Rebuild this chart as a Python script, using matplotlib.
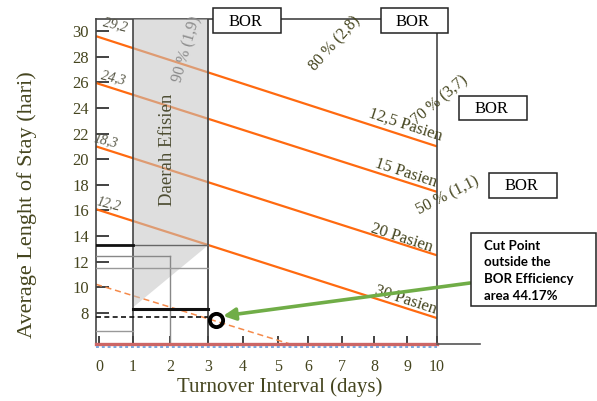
import numpy as np
import matplotlib
matplotlib.use("Agg")
import matplotlib.pyplot as plt
from matplotlib.patches import Rectangle, Polygon
import matplotlib.transforms as mtransforms

# ---------------- data ----------------
ti_ticks = [0, 1, 2, 3, 4, 5, 6, 7, 8, 9, 10]
los_ticks = [8, 10, 12, 14, 16, 18, 20, 22, 24, 26, 28, 30]

# patient-count (throughput) lines: LOS at x start and x = 10
pasien_names = ["12,5 Pasien", "15 Pasien", "20 Pasien", "30 Pasien"]
pasien_los_start = [29.6, 25.95, 21.0, 16.1]
pasien_los_end = [21.0, 17.45, 12.5, 7.6]
start_labels = ["29,2", "24,3", "18,3", "12,2"]

# dashed line of the cut point
cut_line_x = [-0.09, 5.4]
cut_line_y = [10.24, 5.58]
cut_point_x = [3.23]
cut_point_y = [7.46]
cut_los = 7.69

# efficient region
eff_ti = [1, 3]
eff_los_low = 13.28
eff_triangle_low = 8.44

bor_labels = ["90 % (1,9)", "80 % (2,8)", "70 % (3,7)", "50 % (1,1)"]

# ---------------- scale ----------------
_vals = np.array([-3, 0, 1, 2, 3, 4, 5, 6, 7, 8, 9, 10, 13], float)
_pix = np.array([-3, 99, 133, 170, 208, 243, 278, 308, 342, 374, 407, 437, 539], float)


def fwd(v):
    return np.interp(np.asarray(v, dtype=float), _vals, _pix)


def inv(p):
    return np.interp(np.asarray(p, dtype=float), _pix, _vals)


W, H = 597, 401
fig = plt.figure(figsize=(W / 100, H / 100), dpi=100)
fig.patch.set_facecolor("white")
ax = fig.add_axes([96 / W, 1 - 344 / H, (437 - 96) / W, 325 / H])
ax.set_xscale("function", functions=(fwd, inv))
ax.set_xlim(-0.09, 10)
ax.set_ylim(5.58, 30.94)

serif = "Liberation Serif"
olive = "#45451f"
orange = "#ff6a10"

# spines
for s in ax.spines.values():
    s.set_color("#444444")
    s.set_linewidth(1.2)

ax.set_xticks(ti_ticks)
ax.set_xticklabels([str(t) for t in ti_ticks], fontfamily=serif, fontsize=11.5, color=olive)
ax.set_yticks(los_ticks)
ax.set_yticklabels([str(t) for t in los_ticks], fontfamily=serif, fontsize=12, color=olive)
ax.tick_params(axis="x", direction="in", length=6, width=1.2, color="#222222", pad=11)
ax.tick_params(axis="y", direction="in", length=9.5, width=1.2, color="#222222", pad=5)
ax.xaxis.set_minor_locator(matplotlib.ticker.NullLocator())
ax.yaxis.set_minor_locator(matplotlib.ticker.NullLocator())

xl = ax.get_xlim()

# orange patient lines
for s, e in zip(pasien_los_start, pasien_los_end):
    ax.plot([xl[0], 10], [s, e], color=orange, lw=1.6, zorder=2, solid_capstyle="butt")

# dashed orange line
ax.plot(cut_line_x, cut_line_y, color="#f58a4a", lw=1.1, ls=(0, (4, 2.5)), zorder=2)

# grey efficient region (drawn over lines, semi-transparent)
ax.add_patch(Rectangle((eff_ti[0], eff_los_low), eff_ti[1] - eff_ti[0], 30.94 - eff_los_low,
                       facecolor="#c4c4c4", alpha=0.55, edgecolor="none", zorder=3))
ax.add_patch(Polygon([[eff_ti[0], eff_los_low], [eff_ti[1], eff_los_low], [eff_ti[0], eff_triangle_low]],
                     closed=True, facecolor="#c4c4c4", alpha=0.55, edgecolor="none", zorder=3))

# grid-like helper lines
ax.plot([1, 1], [5.58, 30.94], color="#444444", lw=1.2, zorder=4)
ax.plot([3, 3], [5.58, 30.94], color="#444444", lw=1.3, zorder=4)
ax.plot([2, 2], [5.58, 12.42], color="#888888", lw=1.0, zorder=4)
ax.plot([xl[0], 2], [12.42, 12.42], color="#888888", lw=1.0, zorder=4)
ax.plot([xl[0], 3], [11.49, 11.49], color="#999999", lw=1.0, zorder=4)
ax.plot([xl[0], 1], [6.56, 6.56], color="#999999", lw=1.0, zorder=4)
ax.plot([1, 3], [eff_los_low, eff_los_low], color="#666666", lw=1.0, zorder=4)
ax.plot([xl[0], 1], [eff_los_low, eff_los_low], color="#111111", lw=2.0, zorder=4)
ax.plot([1, 3], [8.28, 8.28], color="#111111", lw=2.2, zorder=4)
ax.plot([xl[0], 3], [cut_los, cut_los], color="#111111", lw=1.2, ls=(0, (3, 2)), zorder=4)

# cut point
ax.plot(cut_point_x, cut_point_y, "o", ms=9.5, mfc="none", mec="black", mew=2.8, zorder=6)

# bottom axis coloured lines
ax.plot([xl[0], 10], [5.58, 5.58], color="#cc6666", lw=2.4, zorder=5, clip_on=False)
off = mtransforms.offset_copy(ax.transData, fig=fig, x=0, y=-2.2, units="points")
ax.plot([xl[0], 10], [5.58, 5.58], color="#7aa6dd", lw=1.4, ls=(0, (1.5, 1.5)), zorder=5,
        clip_on=False, transform=off)
fig.add_artist(plt.Line2D([437 / W, 480 / W], [1 - 344 / H, 1 - 344 / H], color="#555555", lw=1.2))

# labels of patient lines
pas_x = [8.95, 8.97, 8.85, 8.97]
pas_y = [22.67, 18.93, 13.86, 9.02]
for name, px, py in zip(pasien_names, pas_x, pas_y):
    ax.text(px, py, name, fontfamily=serif, fontsize=12, color=olive, rotation=-18,
            ha="center", va="center", rotation_mode="anchor", zorder=7, clip_on=False)

# start value labels
sl_x = [0.47, 0.41, 0.2, 0.28]
sl_y = [30.47, 26.34, 21.42, 16.51]
for lab, px, py in zip(start_labels, sl_x, sl_y):
    ax.text(px, py, lab, fontfamily=serif, fontsize=10, style="italic", color="#555544",
            rotation=-14, ha="center", va="center", rotation_mode="anchor", zorder=7)

# BOR percentage labels
bl_x = [2.45, 6.8, 10.09, 10.33]
bl_y = [28.6, 29.0, 24.62, 17.13]
bl_rot = [74, 48, 40, 27]
bl_col = ["#8a8a8a", olive, olive, olive]
for lab, px, py, r, c in zip(bor_labels, bl_x, bl_y, bl_rot, bl_col):
    ax.text(px, py, lab, fontfamily=serif, fontsize=11.5, color=c, rotation=r,
            ha="center", va="center", rotation_mode="anchor", zorder=7, clip_on=False)

ax.text(1.92, 20.72, "Daerah Efisien", fontfamily=serif, fontsize=13.5, color="#4d4d33",
        rotation=90, ha="center", va="center", zorder=7)

# axis titles
fig.text(27 / W, 1 - 205 / H, "Average Lenght of Stay (hari)", fontfamily=serif, fontsize=16,
         color=olive, rotation=90, ha="center", va="center")
fig.text(280 / W, 1 - 387 / H, "Turnover Interval (days)", fontfamily=serif, fontsize=15,
         color=olive, ha="center", va="center")

# BOR boxes
bor_boxes = [(213, 8, 281, 33), (381, 8, 448, 33), (459, 96, 527, 120), (489, 173, 557, 198)]
for (x0, y0, x1, y1) in bor_boxes:
    fig.add_artist(Rectangle((x0 / W, 1 - y1 / H), (x1 - x0) / W, (y1 - y0) / H,
                             transform=fig.transFigure, facecolor="white", edgecolor="#222222",
                             lw=1.1, zorder=10))
    fig.text((x0 + x1) / 2 / W - 2 / W, 1 - ((y0 + y1) / 2 + 1) / H, "BOR", fontfamily=serif,
             fontsize=12, color="black", ha="center", va="center", zorder=11)

# cut point annotation box
fig.add_artist(Rectangle((471 / W, 1 - 306 / H), 125 / W, 73 / H, transform=fig.transFigure,
                         facecolor="white", edgecolor="#222222", lw=1.1, zorder=10))
fig.text(484 / W, 1 - 240 / H, "Cut Point\noutside the\nBOR Efficiency\narea 44.17%",
         fontfamily="Lato", fontweight="bold", fontsize=9.5, color="black", ha="left", va="top",
         linespacing=1.45, zorder=11)

# green arrow
ax.annotate("", xy=(3.43, 7.77), xycoords="data", xytext=(470 / W, 1 - 283 / H),
            textcoords="figure fraction",
            arrowprops=dict(arrowstyle="-|>", color="#70ad47", lw=2.6, mutation_scale=18,
                            shrinkA=0, shrinkB=0), zorder=9, annotation_clip=False)

fig.savefig("out.png", dpi=100, facecolor="white")
